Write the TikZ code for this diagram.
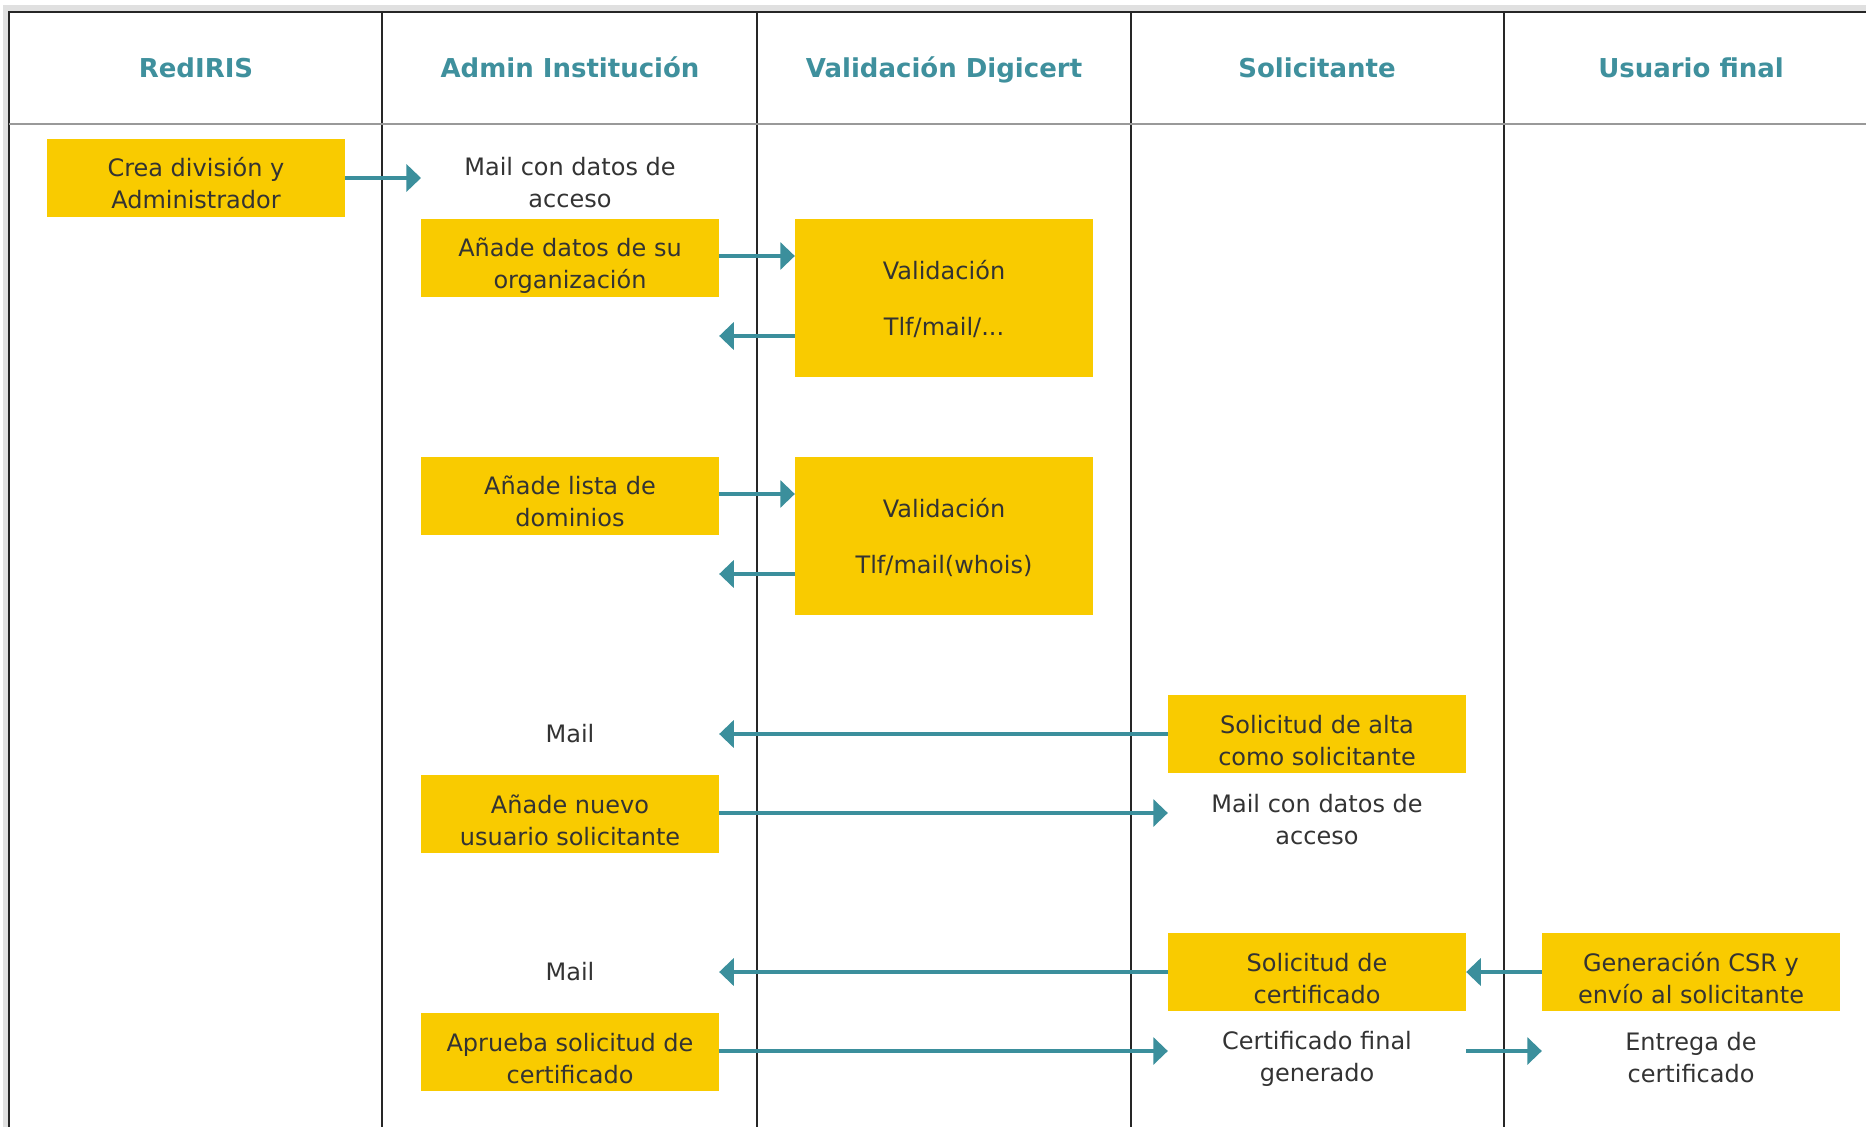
\documentclass[tikz,border=0pt]{standalone}
\usepackage{fontspec}
\setmainfont{DejaVu Sans}
\usetikzlibrary{arrows.meta}
\definecolor{boxyellow}{HTML}{F9CB00}
\definecolor{arrteal}{HTML}{3B8F9C}
\definecolor{txtgray}{HTML}{333333}
\definecolor{hdrteal}{HTML}{3F909D}
\begin{document}
\begin{tikzpicture}[x=0.5pt,y=-0.5pt,
  box/.style={fill=boxyellow, text=txtgray, minimum width=148.75pt, minimum height=39.25pt, align=center, inner sep=0pt, font=\fontsize{12}{16}\selectfont, text height=31pt, text depth=0pt},
  vbox/.style={fill=boxyellow, text=txtgray, minimum width=148.75pt, minimum height=79pt, align=center, inner sep=0pt, font=\fontsize{12}{16}\selectfont, text height=37.5pt, text depth=0pt},
  lbl/.style={text=txtgray, align=center, inner sep=0pt, font=\fontsize{12}{16}\selectfont},
  hd/.style={text=hdrteal, inner sep=0pt, anchor=base, font=\fontsize{13}{16}\selectfont\bfseries},
  arr/.style={draw=arrteal, line width=2pt, -{Triangle[length=7.3pt,width=13.5pt]}},
  frameline/.style={draw=black!85, line width=0.7pt},
  hdrline/.style={draw=black!40, line width=0.8pt}]
\useasboundingbox (0,0) rectangle (1866,1127);
% frame and lanes
\draw[black!12, line width=3pt] (6,1127) -- (6,8) -- (1866,8);
\draw[frameline] (9,1127) -- (9,12) -- (1866,12);
\foreach \x in {382,757,1131,1504} \draw[frameline] (\x,12) -- (\x,1127);
\draw[hdrline] (9,124) -- (1866,124);
% headers
\node[hd] (h1) at (196,78) {RedIRIS};
\node[hd] (h2) at (570,78) {Admin Institución};
\node[hd] (h3) at (944,78) {Validación Digicert};
\node[hd] (h4) at (1317,78) {Solicitante};
\node[hd] (h5) at (1691,78) {Usuario final};
% row 1
\node[box] (crea) at (196,178) {Crea división y\\Administrador};
\node[lbl] (mail1) at (570,183) {Mail con datos de\\acceso};
\coordinate (mail1in) at (421,178);
\node[box] (adatos) at (570,258) {Añade datos de su\\organización};
\node[vbox] (val1) at (944,298) {Validación\\[12pt]Tlf/mail/...};
\draw[arr] (crea.east) -- (mail1in);
\draw[arr] (adatos.east |- 0,256) -- (val1.west |- 0,256);
\draw[arr] (val1.west |- 0,336) -- (adatos.east |- 0,336);
% row 2
\node[box] (alista) at (570,496) {Añade lista de\\dominios};
\node[vbox] (val2) at (944,536) {Validación\\[12pt]Tlf/mail(whois)};
\draw[arr] (alista.east |- 0,494) -- (val2.west |- 0,494);
\draw[arr] (val2.west |- 0,574) -- (alista.east |- 0,574);
% row 3
\node[lbl] (mail2) at (570,734) {Mail};
\node[box] (solalta) at (1317,734) {Solicitud de alta\\como solicitante};
\node[box] (anuevo) at (570,814) {Añade nuevo\\usuario solicitante};
\node[lbl] (mail3) at (1317,820) {Mail con datos de\\acceso};
\draw[arr] (solalta.west) -- (anuevo.east |- solalta.west);
\draw[arr] (anuevo.east |- 0,813) -- (solalta.west |- 0,813);
% row 4
\node[lbl] (mail4) at (570,972) {Mail};
\node[box] (solcert) at (1317,972) {Solicitud de\\certificado};
\node[box] (gencsr) at (1691,972) {Generación CSR y\\envío al solicitante};
\node[box] (aprueba) at (570,1052) {Aprueba solicitud de\\certificado};
\node[lbl] (certfin) at (1317,1059) {Certificado final\\generado};
\node[lbl] (entrega) at (1691,1058) {Entrega de\\certificado};
\draw[arr] (gencsr.west) -- (solcert.east);
\draw[arr] (solcert.west) -- (aprueba.east |- solcert.west);
\draw[arr] (aprueba.east |- 0,1051) -- (solcert.west |- 0,1051);
\draw[arr] (solcert.east |- 0,1051) -- (gencsr.west |- 0,1051);
\end{tikzpicture}
\end{document}
